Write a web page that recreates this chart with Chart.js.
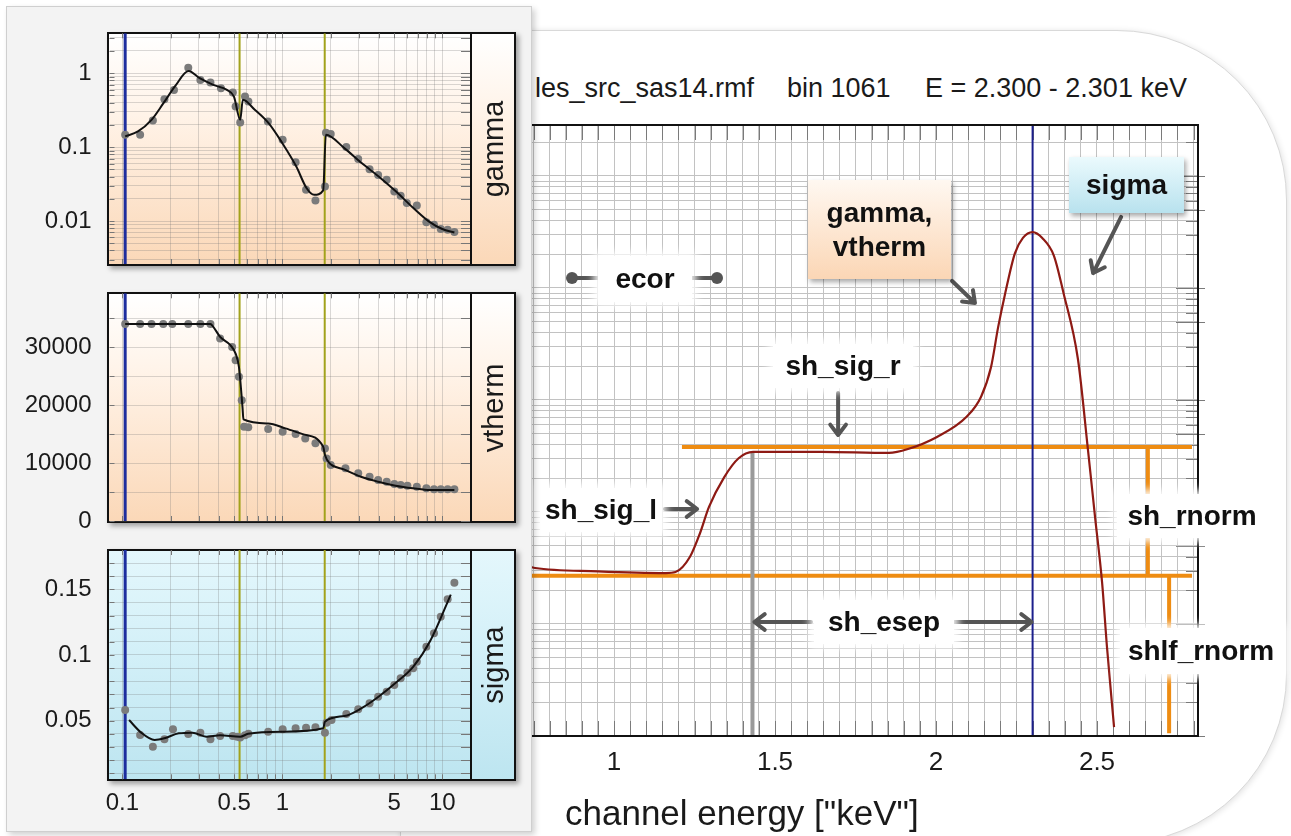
<!DOCTYPE html>
<html>
<head>
<meta charset="utf-8">
<script src="https://cdn.jsdelivr.net/npm/chart.js@4.4.1/dist/chart.umd.min.js"></script>
<style>
html, body { margin: 0; padding: 0; width: 1291px; height: 836px; overflow: hidden; background: #fff;
             font-family: "Liberation Sans", Arial, sans-serif; color: #1a1a1a; }
canvas { position: absolute; }
#frame { position: absolute; left: 400px; top: 30px; width: 885px; height: 812px; border: 1px solid #d9d9d9;
         border-radius: 0 170px 170px 0; box-shadow: 1px 1px 6px rgba(0,0,0,0.12); background: #fff; }
.title { position: absolute; top: 72px; font-size: 27px; line-height: 32px; white-space: pre; }
#xTitle { position: absolute; left: 565px; top: 793px; font-size: 35px; line-height: 40px; white-space: pre; }
.note { position: absolute; display: flex; align-items: center; justify-content: center; text-align: center;
        font-weight: bold; font-size: 28px; line-height: 34px; color: #111; z-index: 5; }
.glow { background: #fff; box-shadow: 0 0 8px 4px rgba(255,255,255,0.95); }
.peach { background: linear-gradient(#fff8f1, #fbd6b5); box-shadow: 2px 3px 5px rgba(0,0,0,0.35); }
.cyan  { background: linear-gradient(#ebfafd, #b8e2ee); box-shadow: 2px 3px 5px rgba(0,0,0,0.35); }
#panel { position: absolute; left: 6px; top: 6px; width: 524px; height: 824px; background: #f3f3f3;
         border: 1px solid #cfcfcf; box-shadow: 3px 3px 6px rgba(0,0,0,0.18); z-index: 10; }
.pframe { position: absolute; left: 107px; width: 409px; box-sizing: border-box; border: 2px solid #111;
          box-shadow: 3px 3px 5px rgba(0,0,0,0.35); z-index: 11; }
.pframe.warm { background: linear-gradient(#ffffff 0%, #fff3e8 35%, #fbd8b8 100%); }
.pframe.cool { background: linear-gradient(#e4f7fc 0%, #d3f0f8 45%, #bde5f0 100%); }
.strip { position: absolute; left: 361px; right: 0; top: 0; bottom: 0; border-left: 2px solid #111; }
.strip span { position: absolute; left: 50%; top: 50%; transform: translate(-50%, -50%) rotate(-90deg);
              font-size: 29px; white-space: nowrap; }
.pc { z-index: 12; }
</style>
</head>
<body>
<div id="frame"></div>
<div class="title" style="left:535px">les_src_sas14.rmf</div>
<div class="title" style="left:787px">bin 1061</div>
<div class="title" style="left:925px">E = 2.300 - 2.301 keV</div>
<canvas id="mainChart" width="761" height="700" style="left:530px;top:100px"></canvas>
<div id="xTitle">channel energy ["keV"]</div>

<div class="note peach" style="left:808px;top:180px;width:143px;height:99px">gamma,<br>vtherm</div>
<div class="note cyan"  style="left:1069px;top:157px;width:115px;height:56px">sigma</div>
<div class="note glow"  style="left:598px;top:256px;width:94px;height:46px">ecor</div>
<div class="note glow"  style="left:773px;top:344px;width:140px;height:44px">sh_sig_r</div>
<div class="note glow"  style="left:540px;top:488px;width:122px;height:44px">sh_sig_l</div>
<div class="note glow"  style="left:1117px;top:494px;width:150px;height:44px">sh_rnorm</div>
<div class="note glow"  style="left:814px;top:600px;width:140px;height:44px">sh_esep</div>
<div class="note glow"  style="left:1120px;top:628px;width:162px;height:46px">shlf_rnorm</div>

<div id="panel"></div>
<div class="pframe warm" style="top:32px;height:234px"><div class="strip"><span>gamma</span></div></div>
<div class="pframe warm" style="top:292px;height:231px"><div class="strip"><span>vtherm</span></div></div>
<div class="pframe cool" style="top:549px;height:232px"><div class="strip"><span>sigma</span></div></div>
<canvas id="gammaChart" class="pc" width="540" height="260" style="left:0;top:20px"></canvas>
<canvas id="vthermChart" class="pc" width="540" height="260" style="left:0;top:280px"></canvas>
<canvas id="sigmaChart" class="pc" width="540" height="290" style="left:0;top:540px"></canvas>

<script>
const ink = '#1a1a1a';
const smallGrid = 'rgba(120,120,120,0.28)';
const mainGrid = '#c2c2c2';

/* ─── Left panels: fitted parameters vs energy (keV) ─────────────────── */

const eMin = 0.083, eMax = 14.9;
const loE = 0.104;
const edgeE = [0.54, 1.84];
const eTickLabels = [0.1, 0.5, 1, 5, 10];

const gammaMin = 0.00262, gammaMax = 3.47;
const gammaTickLabels = [0.01, 0.1, 1];
const gammaDotE = [0.104, 0.129, 0.155, 0.183, 0.21, 0.258, 0.307, 0.355, 0.413, 0.49, 0.51, 0.545, 0.584, 0.613, 0.812, 1.004, 1.21, 1.406, 1.61, 1.846, 1.873, 2.006, 2.51, 2.98, 3.51, 3.97, 4.49, 5.01, 5.49, 6.0, 6.93, 7.95, 8.87, 9.78, 10.8, 11.9];
const gammaDotV = [0.147, 0.147, 0.229, 0.445, 0.595, 1.19, 0.81, 0.75, 0.627, 0.547, 0.354, 0.215, 0.483, 0.413, 0.222, 0.126, 0.0625, 0.0265, 0.019, 0.0294, 0.157, 0.15, 0.1, 0.069, 0.05, 0.042, 0.0362, 0.025, 0.0219, 0.0175, 0.0162, 0.0096, 0.0089, 0.0078, 0.0076, 0.0071];
const gammaFitE = [0.104, 0.125, 0.152, 0.18, 0.214, 0.259, 0.304, 0.37, 0.45, 0.498, 0.545, 0.566, 0.672, 0.82, 1.0, 1.22, 1.415, 1.58, 1.8, 1.87, 2.44, 3.13, 4.0, 5.14, 6.57, 8.23, 10.0, 11.9];
const gammaFitV = [0.14, 0.163, 0.234, 0.39, 0.673, 1.07, 0.856, 0.695, 0.595, 0.483, 0.234, 0.436, 0.32, 0.211, 0.113, 0.055, 0.028, 0.0226, 0.026, 0.147, 0.097, 0.0608, 0.0401, 0.025, 0.0151, 0.0099, 0.0078, 0.007];

const vthMin = 0, vthMax = 39300;
const vthDotE = [0.104, 0.129, 0.152, 0.18, 0.205, 0.258, 0.307, 0.355, 0.408, 0.485, 0.51, 0.535, 0.557, 0.576, 0.612, 0.815, 1.004, 1.21, 1.39, 1.61, 1.846, 1.89, 2.006, 2.48, 2.98, 3.51, 3.97, 4.49, 5.01, 5.49, 6.05, 6.93, 7.95, 8.87, 9.78, 10.8, 11.9];
const vthDotV = [34000, 34000, 34000, 34000, 34000, 34000, 34000, 34000, 31500, 30050, 27760, 24880, 20860, 16260, 16200, 15860, 15400, 15000, 14260, 13400, 12530, 10800, 9660, 9090, 8220, 7640, 7070, 6780, 6380, 6210, 6090, 5920, 5640, 5470, 5470, 5470, 5470];
const vthFitE = [0.104, 0.355, 0.37, 0.408, 0.473, 0.51, 0.535, 0.563, 0.571, 0.815, 1.045, 1.34, 1.8, 1.846, 1.96, 2.42, 3.1, 3.97, 5.1, 6.57, 8.43, 11.9];
const vthFitV = [34000, 34000, 33500, 31780, 30340, 28900, 26600, 19700, 17530, 16840, 15980, 15000, 12810, 11380, 10050, 8910, 7640, 6780, 6090, 5640, 5340, 5340];

const sigMin = 0.0054, sigMax = 0.1799;
const sigTickLabels = [0.05, 0.1, 0.15];
const sigDotE = [0.104, 0.129, 0.155, 0.183, 0.207, 0.258, 0.307, 0.355, 0.408, 0.49, 0.522, 0.545, 0.584, 0.613, 0.815, 1.004, 1.21, 1.406, 1.61, 1.846, 1.89, 2.03, 2.51, 2.98, 3.51, 3.97, 4.49, 5.01, 5.49, 6.05, 6.57, 6.93, 7.95, 8.87, 9.78, 10.8, 11.9];
const sigDotV = [0.0581, 0.0391, 0.0302, 0.0358, 0.0435, 0.0399, 0.0409, 0.0358, 0.0384, 0.0384, 0.0378, 0.0373, 0.039, 0.040, 0.0416, 0.0435, 0.0442, 0.0447, 0.045, 0.0409, 0.0485, 0.0505, 0.0551, 0.0587, 0.0632, 0.0683, 0.0721, 0.0772, 0.0823, 0.0865, 0.0899, 0.0949, 0.1063, 0.1165, 0.1291, 0.1424, 0.155];
const sigFitE = [0.11, 0.131, 0.159, 0.183, 0.225, 0.274, 0.334, 0.408, 0.545, 0.61, 1.0, 1.8, 1.846, 2.44, 3.13, 3.97, 5.14, 6.57, 8.43, 11.3];
const sigFitV = [0.0505, 0.0409, 0.0353, 0.0366, 0.0404, 0.0409, 0.0378, 0.039, 0.0378, 0.040, 0.0416, 0.0442, 0.0492, 0.0535, 0.0595, 0.068, 0.079, 0.091, 0.111, 0.146];

/* ─── Right: response of one channel (log) vs channel energy ────────────── */

const chanMin = 0.7391, chanMax = 2.8137;
const respMin = 1e-6, respMax = 0.2853;
const chanLabels = [1, 1.5, 2, 2.5];
const chanE = [0.74, 0.755, 0.95, 1.161, 1.191, 1.236, 1.267, 1.295, 1.342, 1.387, 1.432, 1.643, 1.854, 1.913, 2.003, 2.095, 2.14, 2.171, 2.193, 2.214, 2.245, 2.27, 2.30, 2.33, 2.366, 2.396, 2.441, 2.472, 2.494, 2.516, 2.531, 2.553];
const chanR = [3.24e-5, 3.16e-5, 2.95e-5, 2.85e-5, 2.91e-5, 3.98e-5, 6.46e-5, 1.11e-4, 2.04e-4, 3.02e-4, 3.44e-4, 3.44e-4, 3.37e-4, 3.65e-4, 4.68e-4, 7.08e-4, 1.07e-3, 1.97e-3, 4.47e-3, 8.71e-3, 2.04e-2, 2.8e-2, 3.16e-2, 2.8e-2, 1.95e-2, 9.02e-3, 2.3e-3, 3.58e-4, 9.02e-5, 2.32e-5, 6.24e-6, 1.2e-6];
const binE = 2.30;
const esepE = 1.43, plateauR = 3.44e-4;
const shR = 3.8e-4, shlfR = 2.69e-5;
const shStartE = 1.211, shEndE = 2.795;
const shRnormE = 2.658, shlfRnormE = 2.724, shlfEndR = 1.06e-6;

/* ─── Helpers ─────────────────────────────────────────────────────────── */

function logTicks(lo, hi) {
    const out = [];
    for (let e = Math.floor(Math.log10(lo)); e <= Math.ceil(Math.log10(hi)); e++) {
        for (let m = 1; m <= 9; m++) {
            const v = Number((m * Math.pow(10, e)).toPrecision(6));
            if (v >= lo * 0.999 && v <= hi * 1.001) out.push(v);
        }
    }
    return out;
}
function stepTicks(lo, hi, step) {
    const out = [];
    for (let v = lo; v <= hi + step / 1000; v += step) out.push(Number(v.toFixed(6)));
    return out;
}
const pts = (xs, ys) => xs.map((x, i) => ({ x, y: ys[i] }));
const vline = (x, y0, y1) => [{ x, y: y0 }, { x, y: y1 }];
const hline = (x0, x1, y) => [{ x: x0, y }, { x: x1, y }];

// keep label overhang from shrinking the plot area
function fixBox(w, h) {
    return s => {
        if (w !== null) s.width = w;
        if (h !== null) s.height = h;
        s.paddingLeft = s.paddingRight = s.paddingTop = s.paddingBottom = 0;
    };
}

Chart.defaults.font.family = '"Liberation Sans", Arial, sans-serif';
Chart.defaults.color = ink;
Chart.defaults.animation = false;

// short inward ticks on the small panels' edges
const panelTicks = {
    id: 'panelTicks',
    afterDatasetsDraw(chart) {
        const { ctx, chartArea: a, scales: { x, y } } = chart;
        ctx.save();
        ctx.strokeStyle = '#777';
        ctx.lineWidth = 1;
        ctx.beginPath();
        y.ticks.forEach(t => {
            const py = Math.round(y.getPixelForValue(t.value)) + 0.5;
            ctx.moveTo(a.left, py); ctx.lineTo(a.left + 5, py);
            ctx.moveTo(a.right, py); ctx.lineTo(a.right - 9, py);
        });
        x.ticks.forEach(t => {
            const px = Math.round(x.getPixelForValue(t.value)) + 0.5;
            ctx.moveTo(px, a.top); ctx.lineTo(px, a.top + 5);
            ctx.moveTo(px, a.bottom); ctx.lineTo(px, a.bottom - 5);
        });
        ctx.stroke();
        ctx.restore();
    }
};

function mkPanel(o) {
    const markers = [
        { data: vline(loE, o.yMin, o.yMax), borderColor: '#1d2d9e', borderWidth: 3, order: 5 },
        { data: vline(edgeE[0], o.yMin, o.yMax), borderColor: '#a2a21c', borderWidth: 2, order: 4 },
        { data: vline(edgeE[1], o.yMin, o.yMax), borderColor: '#a2a21c', borderWidth: 2, order: 4 }
    ].map(d => Object.assign(d, { showLine: true, pointRadius: 0 }));
    return {
        type: 'scatter',
        data: {
            datasets: [
                { data: pts(o.fitE, o.fitV), showLine: true, borderColor: '#111', borderWidth: 2, pointRadius: 0, cubicInterpolationMode: 'monotone', order: 1 },
                { data: pts(o.dotE, o.dotV), pointRadius: 4, pointBackgroundColor: '#7b7b7b', pointBorderWidth: 0, order: 2 },
                ...markers
            ]
        },
        options: {
            responsive: false,
            layout: { padding: { left: 0, right: 70, top: o.padTop, bottom: o.padBottom } },
            plugins: { legend: { display: false }, tooltip: { enabled: false } },
            scales: {
                x: {
                    type: 'logarithmic', min: eMin, max: eMax,
                    afterBuildTicks: s => { s.ticks = logTicks(0.1, 10).map(value => ({ value })); },
                    afterFit: fixBox(null, o.xLabels ? 40 : 0),
                    ticks: { display: o.xLabels, autoSkip: false, maxRotation: 0, padding: 10, font: { size: 24 },
                             callback: v => eTickLabels.includes(v) ? String(v) : '' },
                    grid: { color: smallGrid, drawTicks: false },
                    border: { display: false }
                },
                y: {
                    type: o.yType, min: o.yMin, max: o.yMax,
                    afterBuildTicks: s => { s.ticks = o.yTicks.map(value => ({ value })); },
                    afterFit: fixBox(109.5, null),
                    ticks: { autoSkip: false, padding: 18, font: { size: 24 }, callback: o.yLabel },
                    grid: { color: smallGrid, drawTicks: false },
                    border: { display: false }
                }
            }
        },
        plugins: [panelTicks]
    };
}

/* ─── Main chart decorations: frame, edge ticks, arrows ──────────────── */

const arrows = [
    { from: [1.696, 1.155e-3], to: [1.696, 4.87e-4] },   // sh_sig_r
    { from: [1.158, 1.064e-4], to: [1.258, 1.064e-4] },  // sh_sig_l
    { from: [1.612, 1.042e-5], to: [1.436, 1.042e-5] },  // sh_esep left
    { from: [2.056, 1.042e-5], to: [2.297, 1.042e-5] },  // sh_esep right
    { from: [2.050, 1.155e-2], to: [2.121, 7.35e-3] },   // gamma, vtherm
    { from: [2.575, 4.31e-2], to: [2.488, 1.36e-2] }     // sigma
];
const ecorDots = [0.8696, 1.3199], ecorInner = [0.9503, 1.2422], ecorR = 1.228e-2;

function drawArrow(ctx, x1, y1, x2, y2) {
    const a = Math.atan2(y2 - y1, x2 - x1), h = 13;
    ctx.beginPath();
    ctx.moveTo(x1, y1); ctx.lineTo(x2, y2);
    ctx.moveTo(x2 - h * Math.cos(a - 0.65), y2 - h * Math.sin(a - 0.65));
    ctx.lineTo(x2, y2);
    ctx.lineTo(x2 - h * Math.cos(a + 0.65), y2 - h * Math.sin(a + 0.65));
    ctx.stroke();
}

const mainDeco = {
    id: 'mainDeco',
    beforeDatasetsDraw(chart) {
        const { ctx, chartArea: a, scales: { x, y } } = chart;
        ctx.save();
        ctx.strokeStyle = '#7a7a7a';
        ctx.lineWidth = 1;
        ctx.beginPath();
        x.ticks.forEach(t => {
            const px = Math.round(x.getPixelForValue(t.value)) + 0.5;
            ctx.moveTo(px, a.top); ctx.lineTo(px, a.top + 15);
            ctx.moveTo(px, a.bottom); ctx.lineTo(px, a.bottom - 15);
        });
        y.ticks.forEach(t => {
            const py = Math.round(y.getPixelForValue(t.value)) + 0.5;
            const m = Number(t.value.toPrecision(1)) / Math.pow(10, Math.floor(Math.log10(t.value) + 1e-9));
            const big = Math.abs(m - 1) < 1e-6 || Math.abs(m - 5) < 1e-6;
            ctx.moveTo(a.right + (big ? 7 : 0), py); ctx.lineTo(a.right - (big ? 22 : 12), py);
        });
        ctx.stroke();
        ctx.restore();
    },
    afterDatasetsDraw(chart) {
        const { ctx, chartArea: a, scales: { x, y } } = chart;
        ctx.save();
        ctx.strokeStyle = '#111';
        ctx.lineWidth = 2;
        ctx.beginPath();
        ctx.moveTo(a.left, a.top); ctx.lineTo(a.right, a.top);
        ctx.lineTo(a.right, a.bottom); ctx.lineTo(a.left, a.bottom);
        ctx.stroke();

        ctx.strokeStyle = '#555';
        ctx.fillStyle = '#555';
        ctx.lineWidth = 4;
        ctx.lineCap = 'round';
        ctx.lineJoin = 'round';
        arrows.forEach(r => drawArrow(ctx,
            x.getPixelForValue(r.from[0]), y.getPixelForValue(r.from[1]),
            x.getPixelForValue(r.to[0]), y.getPixelForValue(r.to[1])));
        const ey = y.getPixelForValue(ecorR);
        [0, 1].forEach(i => {
            const d = x.getPixelForValue(ecorDots[i]), n = x.getPixelForValue(ecorInner[i]);
            ctx.beginPath(); ctx.moveTo(d, ey); ctx.lineTo(n, ey); ctx.stroke();
            ctx.beginPath(); ctx.arc(d, ey, 6, 0, Math.PI * 2); ctx.fill();
        });
        ctx.restore();
    }
};

/* ─── Build charts ───────────────────────────────────────────────────── */

new Chart(document.getElementById('gammaChart'), mkPanel({
    fitE: gammaFitE, fitV: gammaFitV, dotE: gammaDotE, dotV: gammaDotV,
    yType: 'logarithmic', yMin: gammaMin, yMax: gammaMax,
    yTicks: logTicks(0.003, 3),
    yLabel: v => gammaTickLabels.includes(v) ? String(v) : '',
    padTop: 13.3, padBottom: 16, xLabels: false
}));

new Chart(document.getElementById('vthermChart'), mkPanel({
    fitE: vthFitE, fitV: vthFitV, dotE: vthDotE, dotV: vthDotV,
    yType: 'linear', yMin: vthMin, yMax: vthMax,
    yTicks: stepTicks(0, 35000, 5000),
    yLabel: v => v % 10000 === 0 ? String(v) : '',
    padTop: 13.3, padBottom: 19, xLabels: false
}));

new Chart(document.getElementById('sigmaChart'), mkPanel({
    fitE: sigFitE, fitV: sigFitV, dotE: sigDotE, dotV: sigDotV,
    yType: 'linear', yMin: sigMin, yMax: sigMax,
    yTicks: stepTicks(0.01, 0.17, 0.01),
    yLabel: v => sigTickLabels.includes(v) ? String(v) : '',
    padTop: 10, padBottom: 10.7, xLabels: true
}));

new Chart(document.getElementById('mainChart'), {
    type: 'scatter',
    data: {
        datasets: [
            { data: pts(chanE, chanR), showLine: true, borderColor: '#8e1a14', borderWidth: 2.2, pointRadius: 0, cubicInterpolationMode: 'monotone', order: 1 },
            { data: vline(binE, respMin, respMax), showLine: true, borderColor: '#1c1f8c', borderWidth: 2, pointRadius: 0, order: 2 },
            { data: vline(esepE, plateauR, respMin), showLine: true, borderColor: '#9a9a9a', borderWidth: 4, pointRadius: 0, order: 3 },
            { data: hline(shStartE, shEndE, shR), showLine: true, borderColor: '#ee8c12', borderWidth: 4, pointRadius: 0, order: 4 },
            { data: hline(chanMin, shEndE, shlfR), showLine: true, borderColor: '#ee8c12', borderWidth: 4, pointRadius: 0, order: 4 },
            { data: vline(shRnormE, shR, shlfR), showLine: true, borderColor: '#ee8c12', borderWidth: 4, pointRadius: 0, order: 4 },
            { data: vline(shlfRnormE, shlfR, shlfEndR), showLine: true, borderColor: '#ee8c12', borderWidth: 4, pointRadius: 0, order: 4 }
        ]
    },
    options: {
        responsive: false,
        layout: { padding: { left: 0, right: 93, top: 25, bottom: 14 } },
        plugins: { legend: { display: false }, tooltip: { enabled: false } },
        scales: {
            x: {
                type: 'linear', min: chanMin, max: chanMax,
                afterBuildTicks: s => { s.ticks = stepTicks(0.75, 2.8, 0.05).map(value => ({ value })); },
                afterFit: fixBox(null, 50),
                ticks: { autoSkip: false, maxRotation: 0, padding: 11, font: { size: 26 },
                         callback: v => chanLabels.includes(v) ? String(v) : '' },
                grid: { color: mainGrid, drawTicks: false },
                border: { display: false }
            },
            y: {
                type: 'logarithmic', min: respMin, max: respMax,
                afterBuildTicks: s => { s.ticks = logTicks(respMin, respMax).map(value => ({ value })); },
                afterFit: fixBox(0, null),
                ticks: { display: false },
                grid: { color: mainGrid, drawTicks: false },
                border: { display: false }
            }
        }
    },
    plugins: [mainDeco]
});
</script>
</body>
</html>
